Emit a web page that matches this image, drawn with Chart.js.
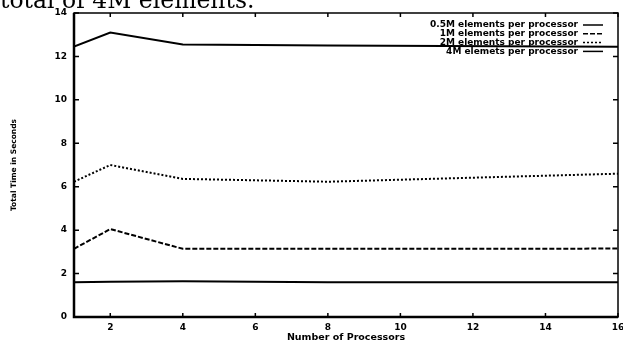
<!DOCTYPE html>
<html>
<head>
<meta charset="utf-8">
<script src="https://cdn.jsdelivr.net/npm/chart.js@4/dist/chart.umd.min.js"></script>
<style>
html, body { margin: 0; padding: 0; background: #fff; }
#wrap { width: 623px; height: 343px; position: relative; }
</style>
</head>
<body>
<div id="wrap"><canvas id="myChart"></canvas></div>
<script>
const processors = [1, 2, 4, 8, 16];
const seriesLabels = [ '0.5M elements per processor', '1M elements per processor', '2M elements per processor', '4M elemets per processor' ];
const time05M = [1.6, 1.62, 1.65, 1.6, 1.6];
const time1M = [3.14, 4.05, 3.14, 3.14, 3.15];
const time2M = [6.23, 7.0, 6.36, 6.23, 6.6];
const time4M = [12.45, 13.1, 12.55, 12.5, 12.45];
const xTicks = [2, 4, 6, 8, 10, 12, 14, 16];
const yTicks = [0, 2, 4, 6, 8, 10, 12, 14];
const caption = 'total of 4M elements.';

const dashes = [ [], [5, 2], [2, 2], [] ];

function points(values) {
	return processors.map((p, i) => ({ x: p, y: values[i] }));
}

const allSeries = [time05M, time1M, time2M, time4M];

// frame, inward tick marks, legend and the cut caption
const paperPlugin = {
	id: 'paper',
	afterDraw(chart) {
		const ctx = chart.ctx;
		const a = chart.chartArea;
		const xs = chart.scales.x;
		const ys = chart.scales.y;
		ctx.save();
		ctx.strokeStyle = '#000';
		ctx.lineWidth = 1.5;
		ctx.strokeRect(a.left, a.top, a.right - a.left, a.bottom - a.top);
		ctx.lineWidth = 2.5;
		ctx.beginPath();
		ctx.moveTo(a.left, a.top);
		ctx.lineTo(a.left, a.bottom);
		ctx.lineTo(a.right, a.bottom);
		ctx.stroke();

		ctx.lineWidth = 1.5;
		ctx.beginPath();
		xTicks.forEach(v => {
			const px = xs.getPixelForValue(v);
			ctx.moveTo(px, a.bottom);
			ctx.lineTo(px, a.bottom - 4);
			ctx.moveTo(px, a.top);
			ctx.lineTo(px, a.top + 4);
		});
		yTicks.forEach(v => {
			const py = ys.getPixelForValue(v);
			ctx.moveTo(a.left, py);
			ctx.lineTo(a.left + 5, py);
			ctx.moveTo(a.right, py);
			ctx.lineTo(a.right - 5, py);
		});
		ctx.stroke();

		// legend
		ctx.font = 'bold 9px "DejaVu Sans"';
		ctx.textAlign = 'right';
		ctx.textBaseline = 'middle';
		ctx.fillStyle = '#000';
		seriesLabels.forEach((label, i) => {
			const y = 25 + i * 8.8;
			ctx.fillText(label, 578, y);
			ctx.setLineDash(dashes[i]);
			ctx.lineWidth = 1.5;
			ctx.beginPath();
			ctx.moveTo(583, y);
			ctx.lineTo(603, y);
			ctx.stroke();
		});
		ctx.setLineDash([]);

		// caption from the page text above the figure
		ctx.font = '23.5px "DejaVu Serif"';
		ctx.textAlign = 'left';
		ctx.textBaseline = 'alphabetic';
		ctx.fillText(caption, 0, 8);
		ctx.restore();
	}
};

const ctx1 = document.getElementById('myChart').getContext('2d');

const chart = new Chart(ctx1, {
	type: 'line',
	data: {
		datasets: allSeries.map((s, i) => ({
			label: seriesLabels[i],
			data: points(s),
			borderColor: '#000',
			borderWidth: 2,
			borderDash: dashes[i],
			pointRadius: 0,
			tension: 0,
			fill: false
		}))
	},
	options: {
		maintainAspectRatio: false,
		responsive: true,
		animation: false,
		layout: {
			padding: { left: 0, top: 13, right: 5, bottom: 0 }
		},
		plugins: {
			legend: { display: false },
			tooltip: { enabled: false }
		},
		scales: {
			x: {
				type: 'linear',
				min: 1,
				max: 16,
				afterBuildTicks: scale => { scale.ticks = xTicks.map(v => ({ value: v })); },
				afterFit: scale => {
					scale.height = 26;
					scale.paddingLeft = 0;
					scale.paddingRight = 0;
				},
				grid: { display: false, drawTicks: false },
				border: { display: false },
				ticks: {
					color: '#000',
					padding: 5,
					maxRotation: 0,
					font: { family: 'DejaVu Sans', weight: 'bold', size: 9 }
				},
				title: {
					display: true,
					text: 'Number of Processors',
					color: '#000',
					padding: { top: 0, bottom: 0 },
					font: { family: 'DejaVu Sans', weight: 'bold', size: 9.5 }
				}
			},
			y: {
				min: 0,
				max: 14,
				afterBuildTicks: scale => { scale.ticks = yTicks.map(v => ({ value: v })); },
				afterFit: scale => { scale.width = 74; },
				grid: { display: false, drawTicks: false },
				border: { display: false },
				ticks: {
					color: '#000',
					padding: 7,
					font: { family: 'DejaVu Sans', weight: 'bold', size: 9 }
				},
				title: {
					display: true,
					text: 'Total Time in Seconds',
					color: '#000',
					padding: { top: 10, bottom: 0 },
					font: { family: 'DejaVu Sans', weight: 'bold', size: 7.5 }
				}
			}
		}
	},
	plugins: [paperPlugin]
});
</script>
</body>
</html>
